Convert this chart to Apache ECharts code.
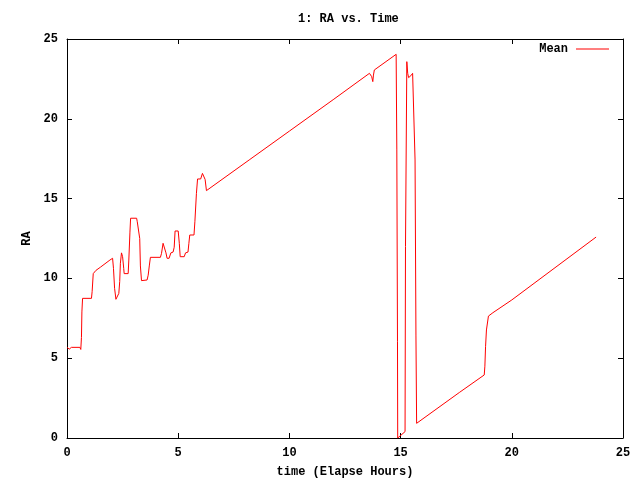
<!DOCTYPE html>
<html>
<head>
<meta charset="utf-8">
<script src="https://cdn.jsdelivr.net/npm/echarts@6/dist/echarts.min.js"></script>
<style>html,body{margin:0;padding:0;background:#fff}#c{width:640px;height:480px}</style>
</head>
<body>
<div id="c"></div>
<script>
var hours = [0.0,0.1,0.2,0.58,0.62,0.65,0.67,0.70,1.1,1.13,1.18,1.3,1.5,1.93,2.05,2.09,2.14,2.2,2.27,2.33,2.37,2.4,2.45,2.48,2.5,2.55,2.57,2.75,2.78,2.83,2.86,3.13,3.16,3.23,3.27,3.3,3.35,3.43,3.6,3.65,3.7,3.75,4.2,4.25,4.32,4.4,4.45,4.5,4.59,4.67,4.77,4.82,4.86,5.0,5.05,5.09,5.27,5.33,5.44,5.48,5.52,5.71,5.75,5.82,5.87,6.01,6.09,6.15,6.21,6.27,8.22,10.0,12.0,13.6,13.66,13.7,13.75,13.78,13.82,14.8,14.83,14.86,14.87,15.2,15.22,15.28,15.32,15.36,15.46,15.54,15.62,15.65,15.69,15.72,17.64,18.76,18.79,18.82,18.86,18.95,19.15,20.0,23.79];
var raMean = [5.68,5.57,5.68,5.68,5.55,6.3,7.9,8.75,8.75,9.17,10.3,10.5,10.7,11.15,11.26,10.63,9.38,8.69,8.69,9.06,9.8,10.95,11.6,11.7,11.36,10.63,10.3,10.3,11.15,12.9,13.77,13.77,13.55,13.5,12.5,10.78,9.86,9.9,9.9,10.2,10.78,11.32,11.32,11.57,12.2,12.2,11.6,11.26,11.26,11.6,11.65,11.95,12.97,12.97,12.2,11.36,11.36,11.6,11.65,12.2,12.72,12.72,13.55,15.33,16.23,16.23,16.58,16.58,16.2,15.5,17.45,19.23,21.23,22.85,22.89,22.64,22.33,22.74,23.06,24.04,18.05,6.03,0.0,0.4,12.0,23.58,22.85,22.58,22.7,22.85,22.85,17.42,6.45,0.92,2.85,3.95,4.5,5.72,6.77,7.64,7.85,8.65,12.59];
var seriesName = 'Mean';
var titleText = '1: RA vs. Time';
var xName = 'time (Elapse Hours)';
var yName = 'RA';

var font = 'Liberation Mono';
var txt = {fontFamily: font, fontWeight: 'bold', fontSize: 12, color: '#000'};
var data = hours.map(function(h, i){ return [h, raMean[i]]; });
var chart = echarts.init(document.getElementById('c'), null, {renderer: 'canvas'});
function axisBase(pos, showLabel) {
  return {
    type: 'value', position: pos, min: 0, max: 25, interval: 5,
    axisLine: {show: true, onZero: false, lineStyle: {color: '#000', width: 1}},
    axisTick: {show: true, inside: true, length: 5, lineStyle: {color: '#000'}},
    axisLabel: Object.assign({show: showLabel, margin: 9}, txt),
    splitLine: {show: false}
  };
}
var x0 = axisBase('bottom', true);
x0.name = xName; x0.nameLocation = 'middle'; x0.nameGap = 28; x0.nameTextStyle = txt;
var x1 = axisBase('top', false);
var y0 = axisBase('left', true);
y0.name = yName; y0.nameLocation = 'middle'; y0.nameGap = 34; y0.nameTextStyle = txt;
var y1 = axisBase('right', false);
chart.setOption({
  animation: false,
  backgroundColor: '#fff',
  title: {text: titleText, left: 293, top: 8, textStyle: txt},
  legend: {
    right: 26, top: 38, align: 'right', itemWidth: 33, itemHeight: 10,
    textStyle: Object.assign({padding: [0, 3, 0, 0]}, txt),
    data: [{name: seriesName, icon: 'path://M0,0 L33,0 L33,1 L0,1 Z', itemStyle: {color: '#ff0000'}}]
  },
  grid: {left: 67, right: 17, top: 39, bottom: 42, containLabel: false, outerBoundsMode: 'none'},
  xAxis: [x0, x1],
  yAxis: [y0, y1],
  series: [{
    name: seriesName, type: 'line', data: data, showSymbol: false, symbol: 'none',
    xAxisIndex: 0, yAxisIndex: 0,
    lineStyle: {color: '#ff0000', width: 1}, itemStyle: {color: '#ff0000'}
  }]
});
</script>
</body>
</html>
